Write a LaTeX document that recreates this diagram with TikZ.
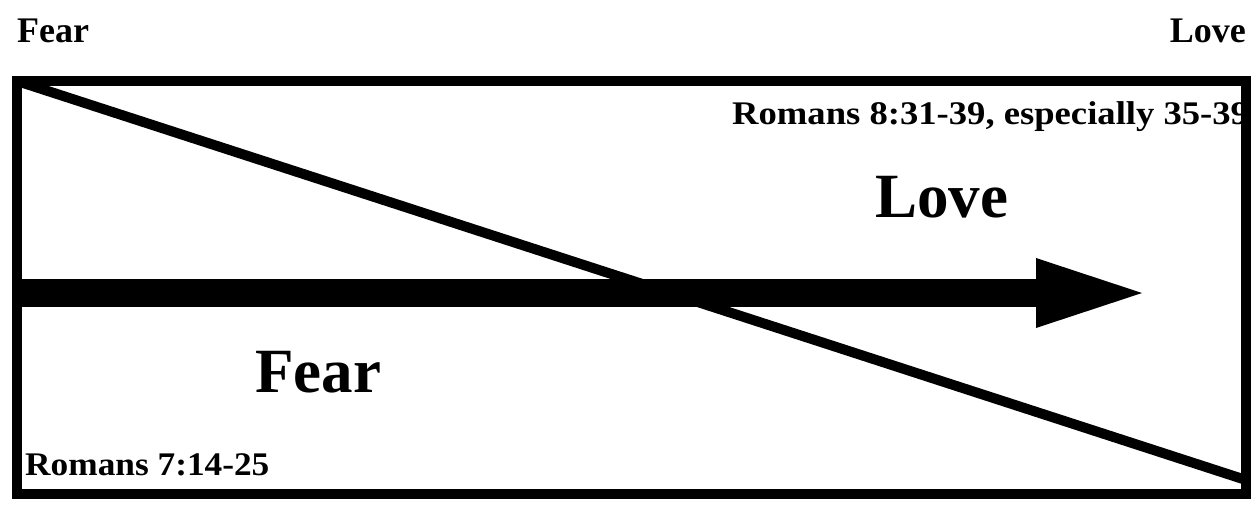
\documentclass[tikz,border=0pt]{standalone}
\usepackage{fontspec}
\setmainfont{Liberation Serif}
\usepackage{graphicx}
\begin{document}
\begin{tikzpicture}[x=1pt,y=-1pt,
  lbl/.style={inner sep=0pt, anchor=base west},
  small/.style={font=\fontsize{36}{40}\selectfont\bfseries},
  ref/.style={font=\fontsize{33}{37}\selectfont\bfseries},
  big/.style={font=\fontsize{63}{70}\selectfont\bfseries},
  frame/.style={line width=10pt, line join=miter},
  diag/.style={line width=10pt, line cap=round},
  shaft/.style={line width=28pt},
]
\useasboundingbox (0,0) rectangle (1251,504);
% texts
\node[lbl, small] (fearTop) at (17,42) {Fear};
\node[lbl, small, anchor=base east] (loveTop) at (1246,42) {Love};
\node[lbl, ref] (rom8) at (732,124) {\scalebox{1.11}[1]{Romans 8:31-39, especially 35-39}};
\node[lbl, ref] (rom7) at (25,475) {\scalebox{1.07}[1]{Romans 7:14-25}};
\node[lbl, big] (loveBig) at (875,217) {Love};
\node[lbl, big] (fearBig) at (255,392) {Fear};
% geometry
\coordinate (tl) at (17,81);
\coordinate (tr) at (1246,81);
\coordinate (br) at (1246,494);
\coordinate (bl) at (17,494);
\coordinate (dEnd) at (1246,480);
\coordinate (as) at (17,293);
\coordinate (hb) at (1037,293);
\coordinate (h1) at (1036,258);
\coordinate (h2) at (1036,328);
\coordinate (tip) at (1142,293);
% arrow
\draw[shaft] (as) -- (hb);
\fill (h1) -- (tip) -- (h2) -- cycle;
% diagonal
\draw[diag] (tl) -- (dEnd);
% frame
\draw[frame] (tl) -- (tr) -- (br) -- (bl) -- cycle;
\end{tikzpicture}
\end{document}
